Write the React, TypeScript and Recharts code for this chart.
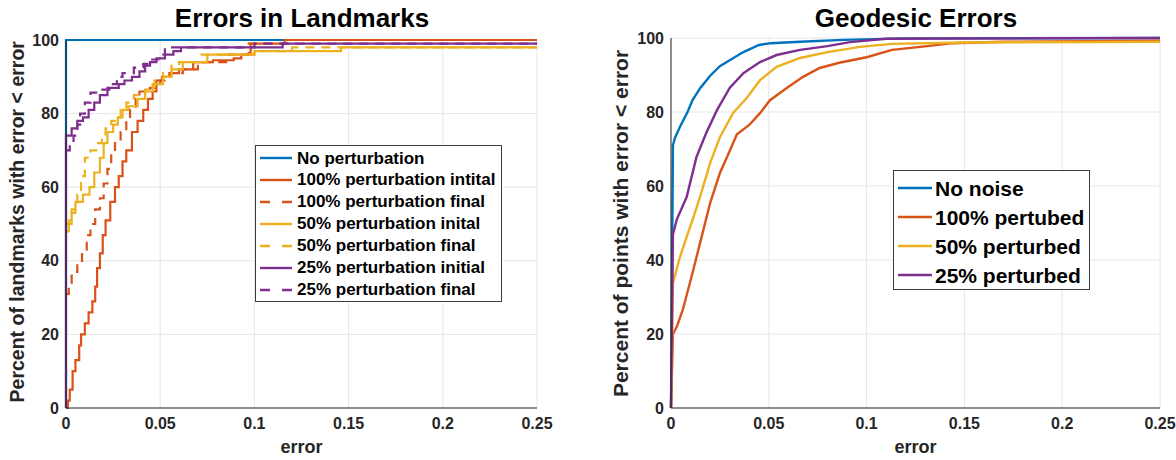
import React from "react";
import { LineChart, Line, XAxis, YAxis, CartesianGrid, Legend, Label } from "recharts";

const FONT = "'Liberation Sans', Arial, Helvetica, sans-serif";
const TEXT = "#262626";
const GRID = "#e6e6e6";

const BLUE = "#0072BD";
const ORANGE = "#D95319";
const YELLOW = "#EDB120";
const PURPLE = "#7E2F8E";

const xTicks = [0, 0.05, 0.1, 0.15, 0.2, 0.25];
const yTicks = [0, 20, 40, 60, 80, 100];

// --- Errors in Landmarks (empirical CDFs, drawn as stairs) ---
const noPertX = [0, 0, 0.25];
const noPertY = [0, 100, 100];

const p100InitX = [0, 0.001, 0.002, 0.0035, 0.005, 0.007, 0.008, 0.01, 0.012, 0.014, 0.0155, 0.0165, 0.018, 0.0195, 0.021, 0.0235, 0.026, 0.028, 0.03, 0.032, 0.035, 0.038, 0.041, 0.0435, 0.046, 0.048, 0.051, 0.055, 0.06, 0.0675, 0.078, 0.089, 0.093, 0.098, 0.116, 0.25];
const p100InitY = [0, 2, 5, 10, 13, 17, 20, 23, 26, 29, 33, 38, 42, 47, 51, 56, 60, 63, 67, 70, 75, 78, 81, 84, 86, 89, 90, 91, 92, 94, 94.5, 95, 96, 99, 100, 100];

const p100FinalX = [0, 0.0015, 0.003, 0.006, 0.0085, 0.011, 0.013, 0.0155, 0.018, 0.02, 0.022, 0.024, 0.026, 0.029, 0.032, 0.034, 0.037, 0.039, 0.0445, 0.05, 0.055, 0.062, 0.07, 0.085, 0.097, 0.118, 0.25];
const p100FinalY = [31, 34, 37, 40, 43, 47, 50, 54, 57, 61, 65, 69, 72, 75, 78, 81, 84, 86, 87, 89, 91, 92, 94, 96, 99, 100, 100];

const p50InitX = [0, 0.0015, 0.003, 0.005, 0.009, 0.0125, 0.015, 0.018, 0.02, 0.022, 0.025, 0.0275, 0.03, 0.033, 0.038, 0.042, 0.046, 0.0515, 0.056, 0.062, 0.075, 0.1, 0.146, 0.25];
const p50InitY = [48, 51, 53, 56, 58, 60, 64, 68, 72, 75, 77, 79, 81, 82, 84, 86, 88, 90, 92, 94, 96, 97, 98, 98];

const p50FinalX = [0, 0.003, 0.006, 0.008, 0.01, 0.013, 0.016, 0.019, 0.021, 0.024, 0.026, 0.029, 0.032, 0.036, 0.042, 0.047, 0.0515, 0.056, 0.06, 0.072, 0.1, 0.12, 0.25];
const p50FinalY = [50, 54, 58, 63, 68, 70, 72, 74, 76, 78, 79, 81, 83, 85, 86.5, 89, 91, 93, 94, 96, 97, 98, 98];

const p25InitX = [0, 0, 0.003, 0.006, 0.009, 0.012, 0.015, 0.018, 0.022, 0.028, 0.031, 0.035, 0.039, 0.042, 0.0446, 0.048, 0.0525, 0.057, 0.061, 0.115, 0.25];
const p25InitY = [0, 74, 76, 78, 79, 81, 83, 85, 87, 88, 89, 90, 91.5, 93, 94, 95, 96, 97, 98, 99, 99];

const p25FinalX = [0, 0.002, 0.004, 0.006, 0.0075, 0.01, 0.013, 0.018, 0.023, 0.027, 0.03, 0.036, 0.041, 0.0446, 0.049, 0.0525, 0.1, 0.25];
const p25FinalY = [70, 72, 74, 77, 80, 83, 85.7, 86.5, 88, 90, 91, 92.5, 93.5, 94.7, 96, 98, 99, 99];

// --- Geodesic Errors ---
const noNoiseX = [0, 0.001, 0.002, 0.0046, 0.0082, 0.011, 0.015, 0.02, 0.025, 0.03, 0.037, 0.045, 0.051, 0.066, 0.088, 0.12, 0.25];
const noNoiseY = [0, 71, 73, 76, 79.7, 83.2, 86.5, 89.8, 92.4, 94, 96.2, 98.1, 98.6, 99, 99.5, 99.9, 100];

const pert100X = [0, 0.001, 0.003, 0.006, 0.011, 0.016, 0.02, 0.025, 0.0286, 0.0337, 0.04, 0.0455, 0.0506, 0.059, 0.0675, 0.076, 0.086, 0.1, 0.113, 0.131, 0.144, 0.17, 0.25];
const pert100Y = [0, 20, 22, 26.5, 36.5, 47, 55.4, 63.5, 67.8, 74, 76.5, 79.7, 83.2, 86.4, 89.5, 91.9, 93.3, 94.8, 96.8, 97.8, 98.6, 99, 99.3];

const pert50X = [0, 0.001, 0.0046, 0.0087, 0.011, 0.0148, 0.02, 0.025, 0.0317, 0.039, 0.0455, 0.054, 0.066, 0.08, 0.0966, 0.113, 0.15, 0.25];
const pert50Y = [0, 33.8, 40.8, 47.3, 50.8, 57, 66.2, 73.2, 79.7, 84, 88.6, 92.2, 94.6, 96.2, 97.6, 98.4, 98.8, 99];

const pert25X = [0, 0.001, 0.003, 0.008, 0.013, 0.018, 0.0235, 0.03, 0.037, 0.0455, 0.054, 0.066, 0.08, 0.0915, 0.11, 0.25];
const pert25Y = [0, 47, 51, 57, 67.8, 74.3, 80.5, 86.5, 90.5, 93.5, 95.4, 96.8, 97.8, 98.9, 99.8, 100];

const pts = (xs: number[], ys: number[]) => xs.map((x, i) => ({ x, y: ys[i] }));

type Series = { name: string; color: string; dashed: boolean; data: { x: number; y: number }[] };

const landmarkSeries: Series[] = [
  { name: "No perturbation", color: BLUE, dashed: false, data: pts(noPertX, noPertY) },
  { name: "100% perturbation intital", color: ORANGE, dashed: false, data: pts(p100InitX, p100InitY) },
  { name: "100% perturbation final", color: ORANGE, dashed: true, data: pts(p100FinalX, p100FinalY) },
  { name: "50% perturbation inital", color: YELLOW, dashed: false, data: pts(p50InitX, p50InitY) },
  { name: "50% perturbation final", color: YELLOW, dashed: true, data: pts(p50FinalX, p50FinalY) },
  { name: "25% perturbation initial", color: PURPLE, dashed: false, data: pts(p25InitX, p25InitY) },
  { name: "25% perturbation final", color: PURPLE, dashed: true, data: pts(p25FinalX, p25FinalY) },
];

const geodesicSeries: Series[] = [
  { name: "No noise", color: BLUE, dashed: false, data: pts(noNoiseX, noNoiseY) },
  { name: "100% pertubed", color: ORANGE, dashed: false, data: pts(pert100X, pert100Y) },
  { name: "50% perturbed", color: YELLOW, dashed: false, data: pts(pert50X, pert50Y) },
  { name: "25% perturbed", color: PURPLE, dashed: false, data: pts(pert25X, pert25Y) },
];

const tickStyle = { fill: TEXT, fontSize: 16, fontWeight: "bold", fontFamily: FONT };

type BoxProps = {
  items: Series[];
  fontSize: number;
  rowH: number;
  padTop: number;
  sample: number;
  gap: number;
  width: number;
  height: number;
};

const LegendBox = ({ items, fontSize, rowH, padTop, sample, gap, width, height }: BoxProps) => (
  <div
    style={{
      width,
      height,
      boxSizing: "border-box",
      border: "1px solid #3c3c3c",
      background: "#fff",
      paddingTop: padTop,
      paddingLeft: 4,
      fontFamily: FONT,
      fontWeight: "bold",
      fontSize,
      color: "#000",
    }}
  >
    {items.map((s) => (
      <div key={s.name} style={{ display: "flex", alignItems: "center", height: rowH, whiteSpace: "nowrap" }}>
        <svg width={sample} height={6} style={{ marginRight: gap, flex: "none" }}>
          <line
            x1={0}
            y1={3}
            x2={sample}
            y2={3}
            stroke={s.color}
            strokeWidth={2.4}
            strokeDasharray={s.dashed ? "10 12" : undefined}
          />
        </svg>
        <span style={{ lineHeight: `${rowH}px` }}>{s.name}</span>
      </div>
    ))}
  </div>
);

const Title = ({ text, cx }: { text: string; cx: number }) => (
  <div
    style={{
      position: "absolute",
      left: cx - 200,
      top: 5,
      width: 400,
      textAlign: "center",
      fontFamily: FONT,
      fontWeight: "bold",
      fontSize: 26,
      lineHeight: "26px",
      color: "#000",
    }}
  >
    {text}
  </div>
);

const YTitle = ({ text, cx, cy, size }: { text: string; cx: number; cy: number; size: number }) => (
  <div
    style={{
      position: "absolute",
      left: cx - 250,
      top: cy - size / 2,
      width: 500,
      height: size,
      textAlign: "center",
      fontFamily: FONT,
      fontWeight: "bold",
      fontSize: size,
      lineHeight: `${size}px`,
      color: TEXT,
      whiteSpace: "nowrap",
      transform: "rotate(-90deg)",
    }}
  >
    {text}
  </div>
);

type PanelProps = {
  series: Series[];
  step: boolean;
  width: number;
  top: number;
  right: number;
  yAxisW: number;
  legend: React.ReactNode;
  legendPos: { left: number; top: number; width: number; height: number };
  lineW: number;
  topLine: boolean;
};

const Panel = ({ series, step, width, top, right, yAxisW, legend, legendPos, lineW, topLine }: PanelProps) => (
  <LineChart width={width} height={460} margin={{ top, right, left: 0, bottom: 0 }}>
    <CartesianGrid stroke={GRID} strokeWidth={1} />
    <XAxis
      dataKey="x"
      type="number"
      domain={[0, 0.25]}
      ticks={xTicks}
      interval={0}
      stroke={TEXT}
      tickLine={false}
      tickMargin={4}
      tick={tickStyle}
      height={52}
    >
      <Label
        value="error"
        position="insideBottom"
        offset={7}
        style={{ fill: TEXT, fontSize: 18, fontWeight: "bold", fontFamily: FONT }}
      />
    </XAxis>
    <YAxis
      type="number"
      domain={[0, 100]}
      ticks={yTicks}
      interval={0}
      stroke={TEXT}
      tickLine={false}
      tickMargin={1}
      tick={tickStyle}
      width={yAxisW}
    />
    <XAxis
      xAxisId="top"
      orientation="top"
      type="number"
      domain={[0, 0.25]}
      tick={false}
      tickLine={false}
      axisLine={topLine}
      height={0}
      stroke={TEXT}
    />
    <YAxis yAxisId="right" orientation="right" type="number" domain={[0, 100]} tick={false} tickLine={false} width={0} stroke={TEXT} />
    {series.map((s) => (
      <Line
        key={s.name}
        data={s.data}
        dataKey="y"
        name={s.name}
        type={step ? "stepAfter" : "linear"}
        stroke={s.color}
        strokeWidth={lineW}
        strokeDasharray={s.dashed ? "9 7" : undefined}
        dot={false}
        activeDot={false}
        isAnimationActive={false}
      />
    ))}
    <Legend
      layout="vertical"
      align="center"
      verticalAlign="middle"
      wrapperStyle={{ ...legendPos }}
      content={() => legend}
    />
  </LineChart>
);

export default function App() {
  return (
    <div style={{ position: "absolute", left: 0, top: 0, width: 1176, height: 460, background: "#fff" }}>
      <div style={{ position: "absolute", left: 0, top: 0 }}>
        <Panel
          series={landmarkSeries}
          step
          width={600}
          top={40}
          right={63}
          yAxisW={66}
          lineW={2.2}
          topLine={false}
          legendPos={{ left: 255, top: 145, width: 247, height: 157 }}
          legend={
            <LegendBox items={landmarkSeries} fontSize={17} rowH={21.9} padTop={1.5} sample={32} gap={5} width={247} height={157} />
          }
        />
      </div>
      <div style={{ position: "absolute", left: 600, top: 0 }}>
        <Panel
          series={geodesicSeries}
          step={false}
          width={576}
          top={38}
          right={16}
          yAxisW={71}
          lineW={2.4}
          topLine
          legendPos={{ left: 293, top: 170, width: 197, height: 120 }}
          legend={
            <LegendBox items={geodesicSeries} fontSize={21} rowH={29} padTop={2.5} sample={34} gap={3} width={197} height={120} />
          }
        />
      </div>
      <Title text="Errors in Landmarks" cx={302} />
      <Title text="Geodesic Errors" cx={916} />
      <YTitle text="Percent of landmarks with error < error" cx={18} cy={222} size={19.5} />
      <YTitle text="Percent of points with error < error" cx={620} cy={223} size={21} />
    </div>
  );
}
